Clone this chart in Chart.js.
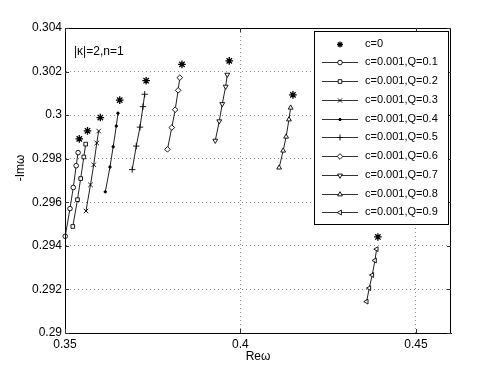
<!DOCTYPE html>
<html>
<head>
<meta charset="utf-8">
<script src="https://cdn.jsdelivr.net/npm/chart.js"></script>
<style>
  html, body { margin: 0; padding: 0; background: #fff; }
  #wrap { width: 498px; height: 375px; }
</style>
</head>
<body>
<div id="wrap"><canvas id="myChart" width="498" height="375"></canvas></div>
<script>
// data: Re(omega) and -Im(omega)
const c0Re = [0.35407, 0.35641, 0.36006, 0.3656, 0.37313, 0.38333, 0.39681, 0.41496, 0.43917];
const c0Im = [0.29891, 0.29928, 0.29989, 0.30069, 0.30158, 0.30233, 0.30249, 0.30093, 0.29441];

const q1Re = [0.35006, 0.35142, 0.35236, 0.35319, 0.35373];
const q1Im = [0.29444, 0.29571, 0.29668, 0.29768, 0.29828];
const q2Re = [0.35222, 0.35356, 0.35447, 0.35536, 0.3559];
const q2Im = [0.29489, 0.29612, 0.29709, 0.29808, 0.29867];
const q3Re = [0.35598, 0.35726, 0.35818, 0.35906, 0.3596];
const q3Im = [0.2956, 0.2968, 0.29772, 0.29872, 0.29927];
const q4Re = [0.36148, 0.36282, 0.36373, 0.36462, 0.3651];
const q4Im = [0.29648, 0.29762, 0.29855, 0.2995, 0.30009];
const q5Re = [0.36915, 0.37031, 0.37137, 0.37222, 0.37271];
const q5Im = [0.2975, 0.29858, 0.29945, 0.30039, 0.30096];
const q6Re = [0.3792, 0.38043, 0.3814, 0.38225, 0.38271];
const q6Im = [0.29843, 0.29943, 0.30025, 0.30114, 0.30172];
const q7Re = [0.39282, 0.39396, 0.39481, 0.39578, 0.39624];
const q7Im = [0.29883, 0.29972, 0.30051, 0.30131, 0.30186];
const q8Re = [0.41103, 0.41217, 0.41302, 0.41382, 0.4143];
const q8Im = [0.29759, 0.29837, 0.29901, 0.2998, 0.30034];
const q9Re = [0.43595, 0.4367, 0.43755, 0.43832, 0.4388];
const q9Im = [0.29144, 0.29206, 0.29266, 0.29333, 0.29385];

const qValues = [0.1, 0.2, 0.3, 0.4, 0.5, 0.6, 0.7, 0.8, 0.9];
const qRe = [q1Re, q2Re, q3Re, q4Re, q5Re, q6Re, q7Re, q8Re, q9Re];
const qIm = [q1Im, q2Im, q3Im, q4Im, q5Im, q6Im, q7Im, q8Im, q9Im];

const xTicks = [0.35, 0.4, 0.45];
const yTicks = [0.29, 0.292, 0.294, 0.296, 0.298, 0.3, 0.302, 0.304];

// marker look for each Q curve (matlab o s x . + d v ^ <)
const markers = [
  { pointStyle: 'circle', radius: 2.3, rotation: 0 },
  { pointStyle: 'rect', radius: 2.6, rotation: 0 },
  { pointStyle: 'crossRot', radius: 3.2, rotation: 0 },
  { pointStyle: 'circle', radius: 1.2, rotation: 0, fill: true },
  { pointStyle: 'cross', radius: 3.2, rotation: 0 },
  { pointStyle: 'rectRot', radius: 2.8, rotation: 0 },
  { pointStyle: 'triangle', radius: 2.8, rotation: 180 },
  { pointStyle: 'triangle', radius: 2.8, rotation: 0 },
  { pointStyle: 'triangle', radius: 2.8, rotation: 270 }
];

const FONT = 'Liberation Sans, Arial, Helvetica, sans-serif';

const zip = (xs, ys) => xs.map((x, i) => ({ x: x, y: ys[i] }));

const datasets = [{
  label: 'c=0',
  data: zip(c0Re, c0Im),
  showLine: false,
  pointStyle: 'star',
  pointRadius: 3.8,
  pointBorderWidth: 1.3,
  pointBorderColor: '#000',
  pointBackgroundColor: '#000',
  clip: false
}];
qValues.forEach((q, i) => {
  const m = markers[i];
  datasets.push({
    label: 'c=0.001,Q=' + q,
    data: zip(qRe[i], qIm[i]),
    showLine: true,
    borderColor: '#222',
    borderWidth: 1,
    pointStyle: m.pointStyle,
    pointRadius: m.radius,
    pointRotation: m.rotation,
    pointBorderWidth: 0.9,
    pointBorderColor: '#000',
    pointBackgroundColor: m.fill ? '#000' : '#fff',
    clip: false
  });
});

// box, inward ticks, text and matlab-like legend
const decor = {
  id: 'decor',
  afterDraw(chart) {
    const ctx = chart.ctx;
    const a = chart.chartArea;
    const xs = chart.scales.x, ys = chart.scales.y;
    ctx.save();
    ctx.strokeStyle = '#000';
    ctx.lineWidth = 1;
    ctx.strokeRect(a.left + 0.5, a.top + 0.5, a.right - a.left - 1, a.bottom - a.top);
    ctx.strokeStyle = '#333';
    ctx.beginPath();
    xTicks.forEach(v => {
      const px = Math.round(xs.getPixelForValue(v)) + 0.5;
      ctx.moveTo(px, a.bottom); ctx.lineTo(px, a.bottom - 4);
      ctx.moveTo(px, a.top); ctx.lineTo(px, a.top + 4);
    });
    yTicks.forEach(v => {
      const py = Math.round(ys.getPixelForValue(v)) + 0.5;
      ctx.moveTo(a.left, py); ctx.lineTo(a.left + 4, py);
      ctx.moveTo(a.right, py); ctx.lineTo(a.right - 4, py);
    });
    ctx.stroke();

    ctx.fillStyle = '#000';
    ctx.font = '12px ' + FONT;
    ctx.textBaseline = 'middle';
    ctx.textAlign = 'left';
    ctx.fillText('|\u03ba|=2,n=1', 74, 52);
    ctx.textAlign = 'center';
    ctx.fillText('Re\u03c9', (a.left + a.right) / 2, 357);
    ctx.save();
    ctx.translate(21, 168);
    ctx.rotate(-Math.PI / 2);
    ctx.fillText('-Im\u03c9', 0, 0);
    ctx.restore();

    // legend
    const bx = 314, by = 31, bw = 134, bh = 193;
    ctx.fillStyle = '#fff';
    ctx.fillRect(bx, by, bw, bh);
    ctx.strokeStyle = '#000';
    ctx.strokeRect(bx + 0.5, by + 0.5, bw, bh);
    ctx.font = '11px ' + FONT;
    ctx.textAlign = 'left';
    chart.data.datasets.forEach((ds, i) => {
      const y = 43.5 + i * 18.75;
      if (ds.showLine) {
        ctx.strokeStyle = '#333';
        ctx.lineWidth = 1;
        ctx.beginPath();
        ctx.moveTo(322, Math.round(y) + 0.5);
        ctx.lineTo(358, Math.round(y) + 0.5);
        ctx.stroke();
      }
      ctx.strokeStyle = ds.pointBorderColor;
      ctx.fillStyle = ds.pointBackgroundColor;
      ctx.lineWidth = ds.pointBorderWidth;
      Chart.helpers.drawPoint(ctx, {
        pointStyle: ds.pointStyle,
        radius: Math.min(ds.pointRadius, 3),
        rotation: ds.pointRotation || 0,
        borderWidth: ds.pointBorderWidth
      }, 340, Math.round(y) + 0.5);
      ctx.fillStyle = '#000';
      ctx.fillText(ds.label, 365, y);
    });
    ctx.restore();
  }
};

new Chart(document.getElementById('myChart'), {
  type: 'scatter',
  data: { datasets: datasets },
  options: {
    responsive: false,
    animation: false,
    layout: { padding: { left: 0, top: 28, right: 47, bottom: 0 } },
    plugins: { legend: { display: false }, tooltip: { enabled: false } },
    scales: {
      x: {
        type: 'linear',
        min: 0.35,
        max: 0.46,
        afterFit: s => { s.height = 42; },
        afterBuildTicks: s => { s.ticks = xTicks.map(v => ({ value: v })); },
        grid: { color: '#8c8c8c', lineWidth: 1, drawTicks: false },
        border: { display: true, color: '#000', width: 1, dash: [1, 3] },
        ticks: {
          padding: 4,
          color: '#000',
          font: { family: FONT, size: 12 },
          maxRotation: 0,
          callback: v => String(Number(v.toFixed(3)))
        }
      },
      y: {
        type: 'linear',
        min: 0.29,
        max: 0.304,
        afterFit: s => { s.width = 65; },
        afterBuildTicks: s => { s.ticks = yTicks.map(v => ({ value: v })); },
        grid: { color: '#8c8c8c', lineWidth: 1, drawTicks: false },
        border: { display: true, color: '#000', width: 1, dash: [1, 3] },
        ticks: {
          padding: 3,
          color: '#000',
          font: { family: FONT, size: 12 },
          callback: v => String(Number(v.toFixed(3)))
        }
      }
    }
  },
  plugins: [decor]
});
</script>
</body>
</html>
